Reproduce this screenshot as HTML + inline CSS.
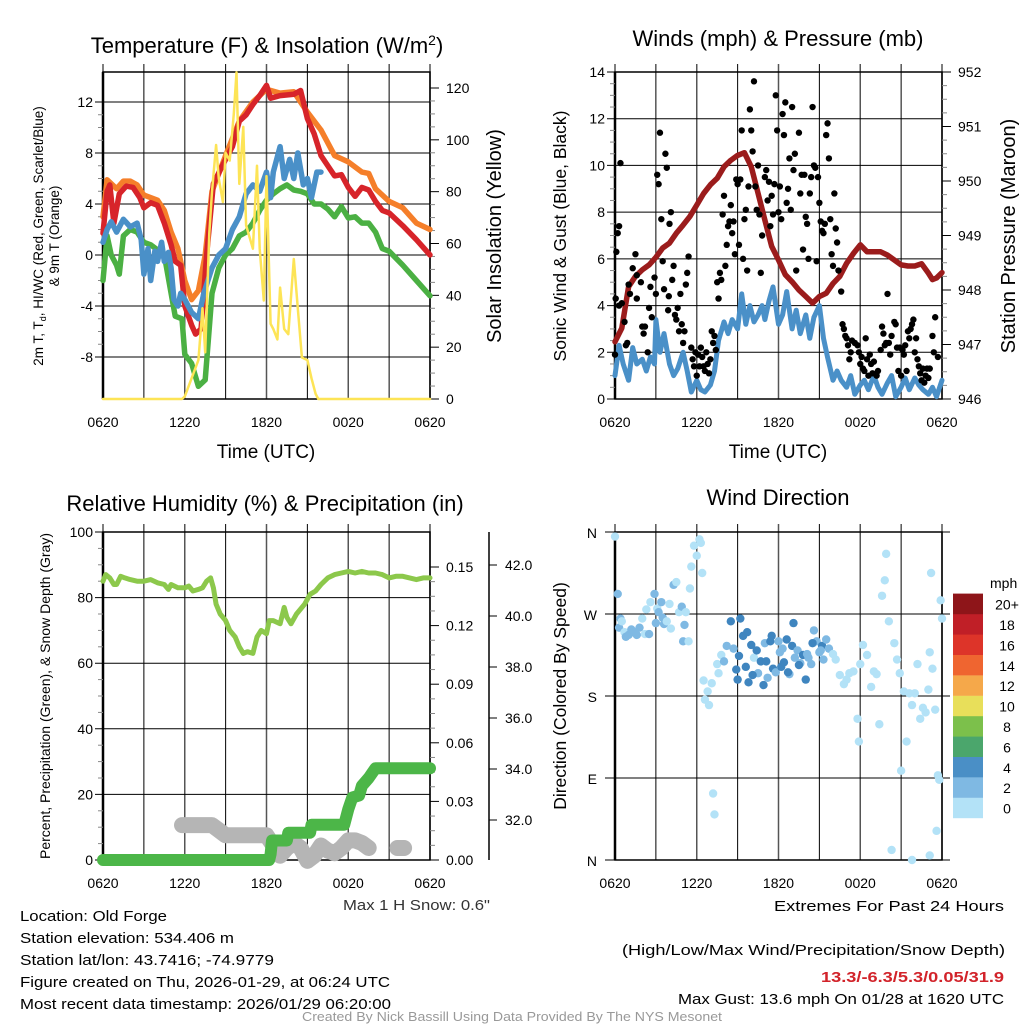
<!DOCTYPE html>
<html><head><meta charset="utf-8"><style>
html,body{margin:0;padding:0;background:#fff;}
svg{display:block;font-family:"Liberation Sans",sans-serif;}
</style></head><body>
<svg id="fig" xmlns="http://www.w3.org/2000/svg" width="1024" height="1024" viewBox="0 0 1024 1024">
<rect x="0" y="0" width="1024" height="1024" fill="#fff"/>
<g id="layer"></g>
<text x="267" y="53" font-size="22" text-anchor="middle">Temperature (F) &amp; Insolation (W/m<tspan dy="-8" font-size="14">2</tspan><tspan dy="8">)</tspan></text>
<text x="778" y="46" font-size="22" text-anchor="middle">Winds (mph) &amp; Pressure (mb)</text>
<text x="265" y="511" font-size="22" text-anchor="middle">Relative Humidity (%) &amp; Precipitation (in)</text>
<text x="778" y="505" font-size="22" text-anchor="middle">Wind Direction</text>
<text x="266" y="458" font-size="19" text-anchor="middle">Time (UTC)</text>
<text x="778" y="458" font-size="19" text-anchor="middle">Time (UTC)</text>
<text transform="translate(43,236) rotate(-90)" font-size="13.5" text-anchor="middle">2m T, T<tspan dy="3" font-size="9">d</tspan><tspan dy="-3">, HI/WC (Red, Green, Scarlet/Blue)</tspan></text>
<text transform="translate(59,236) rotate(-90)" font-size="13.5" text-anchor="middle">&amp; 9m T (Orange)</text>
<text transform="translate(501,236) rotate(-90)" font-size="20" text-anchor="middle">Solar Insolation (Yellow)</text>
<text transform="translate(566,236) rotate(-90)" font-size="17.5" text-anchor="middle">Sonic Wind &amp; Gust (Blue, Black)</text>
<text transform="translate(1015,236) rotate(-90)" font-size="20" text-anchor="middle">Station Pressure (Maroon)</text>
<text transform="translate(50,696) rotate(-90)" font-size="14" text-anchor="middle">Percent, Precipitation (Green), &amp; Snow Depth (Gray)</text>
<text transform="translate(566,696) rotate(-90)" font-size="17.5" text-anchor="middle">Direction (Colored By Speed)</text>
<text x="343" y="910" font-size="15" textLength="147" lengthAdjust="spacingAndGlyphs" fill="#333">Max 1 H Snow: 0.6"</text>
<g font-size="15">
<text x="20" y="921" textLength="147" lengthAdjust="spacingAndGlyphs">Location: Old Forge</text>
<text x="20" y="943" textLength="214" lengthAdjust="spacingAndGlyphs">Station elevation: 534.406 m</text>
<text x="20" y="965" textLength="254" lengthAdjust="spacingAndGlyphs">Station lat/lon: 43.7416; -74.9779</text>
<text x="20" y="987" textLength="370" lengthAdjust="spacingAndGlyphs">Figure created on Thu, 2026-01-29, at 06:24 UTC</text>
<text x="20" y="1009" textLength="371" lengthAdjust="spacingAndGlyphs">Most recent data timestamp: 2026/01/29 06:20:00</text>
</g>
<g font-size="15">
<text x="774" y="911" textLength="230" lengthAdjust="spacingAndGlyphs">Extremes For Past 24 Hours</text>
<text x="622" y="955" textLength="383" lengthAdjust="spacingAndGlyphs">(High/Low/Max Wind/Precipitation/Snow Depth)</text>
<text x="821" y="982" textLength="183" lengthAdjust="spacingAndGlyphs" font-weight="bold" fill="#d2232a">13.3/-6.3/5.3/0.05/31.9</text>
<text x="678" y="1004" textLength="326" lengthAdjust="spacingAndGlyphs">Max Gust: 13.6 mph On 01/28 at 1620 UTC</text>
</g>
<text x="302" y="1021" font-size="12.5" textLength="420" lengthAdjust="spacingAndGlyphs" fill="#999">Created By Nick Bassill Using Data Provided By The NYS Mesonet</text>
</svg>
<script>
// ---------- data ----------
const xTickLabels = ["0620","1220","1820","0020","0620"];
const tempTicks = [-8,-4,0,4,8,12];
const insolTicks = [0,20,40,60,80,100,120];
const windTicks = [0,2,4,6,8,10,12,14];
const presTicks = [946,947,948,949,950,951,952];
const rhTicks = [0,20,40,60,80,100];
const precipTicks = [0,0.03,0.06,0.09,0.12,0.15];
const snowTicks = [32,34,36,38,40,42];
const dirTicks = ["N","E","S","W","N"];
const dirTickDeg = [0,90,180,270,360];
const cbLabels = ["0","2","4","6","8","10","12","14","16","18","20+"];
const cbColors = ["#b3e2f7","#7fb9e3","#4a8fc6","#4ba66c","#7cc04b","#e8df5a","#f5a84a","#ef6530","#dd3429","#c01f27","#8e1519"];

const redT = [[0,1.7],[0.3,5],[0.5,5.5],[0.8,2.5],[1.2,4.8],[1.7,5.4],[2.2,5.3],[2.7,4.5],[3,3.7],[3.5,4.1],[4,3.9],[4.5,2.5],[5,0.8],[5.3,-0.5],[5.7,-0.8],[6,-4],[6.5,-5.5],[6.8,-6.2],[7.2,-5.8],[7.6,0],[8.1,5.6],[9,7.5],[9.5,8.5],[10,10.5],[10.5,11],[11,11.8],[11.5,12.5],[12,13.3],[12.3,12.3],[13,12.5],[14,12.6],[14.5,12.9],[15,10.7],[15.5,9.5],[16,7.8],[17,6.2],[17.5,6.3],[18,5.3],[18.5,4.6],[19,5.3],[19.5,5.1],[20,4.2],[20.5,3.5],[21,3.3],[22,2.3],[23,1.2],[24,0]];
const orangeT = [[0,3],[0.3,5.9],[1,5.2],[1.5,5.8],[2,5.8],[2.5,5.5],[3,4.7],[4,4.3],[4.5,3.5],[5,1.8],[5.5,0.5],[6,-2],[6.5,-3.5],[7,-2.8],[7.5,0],[8,5],[9,7.8],[10,10.5],[11,12],[12,13],[13,12.7],[14,12.8],[15,11.2],[16,9.8],[17,7.8],[18,7.3],[19,6.5],[19.5,6.4],[20,5.2],[21,4.2],[22,3.7],[23,2.5],[24,2]];
const greenTd = [[0,-2],[0.3,1.5],[0.6,0],[1,-0.8],[1.2,-1.5],[1.5,1.5],[2,2],[2.5,1.8],[3,1],[3.5,0.8],[4.5,0],[5,-3],[5.3,-4.8],[5.8,-5],[6,-7.8],[6.5,-8.5],[7,-10.3],[7.5,-9.8],[8,-3],[8.5,-1],[9,0],[9.5,0.5],[10,1.5],[10.5,1.8],[11,2.5],[11.5,3.5],[12,4.3],[12.5,4.8],[13,5.2],[13.5,5.5],[14,5.1],[14.5,5],[15,4.8],[15.5,4],[16,4],[16.5,3.6],[17,3],[17.5,3.8],[18,2.9],[18.5,3],[19,2.5],[19.5,2.5],[20,1.8],[20.5,0.5],[21,0.3],[22,-0.8],[23,-2],[24,-3.2]];
const blueHI = [[0,1],[0.3,2],[0.6,2.6],[1,1.8],[1.5,2.8],[2,2.2],[2.5,2.5],[2.8,1.2],[3,-1.5],[3.3,0.5],[3.5,-2],[3.8,0.3],[4,-0.5],[4.3,1],[4.5,-0.5],[4.8,0.2],[5,-1],[5.2,-3.5],[5.5,-4],[5.7,-3],[6,-3.5],[6.5,-4.5],[7,-5],[7.4,-3],[8,-1],[8.5,0],[9,0.5],[9.5,2],[10,3],[10.5,4.8],[11,5.5],[11.5,5],[12,6.5],[12.3,4.5],[12.5,6.5],[13,8.5],[13.3,6],[13.7,7.5],[14,6],[14.3,8],[14.7,5.5],[15,6],[15.3,4.5],[15.7,6.5],[16,6.5]];
const insol = [[0,0],[5.8,0],[6,1],[6.5,8],[7,15],[7.3,35],[7.5,18],[7.8,64],[8,80],[8.3,98],[8.5,85],[8.8,76],[9,95],[9.3,92],[9.6,110],[9.8,126],[10,83],[10.3,105],[10.5,67],[11,58],[11.3,90],[11.5,58],[11.8,38],[12,86],[12.3,29],[12.5,27],[12.8,23],[13,43],[13.3,27],[13.6,25],[14,54],[14.3,35],[14.6,16],[15,15],[15.3,8],[15.6,2],[15.8,0],[24,0]];

const pressure = [[0,947.05],[0.5,947.3],[1,948.06],[1.5,948.25],[2,948.37],[2.5,948.46],[3,948.6],[3.5,948.77],[4,948.86],[4.5,949.04],[5,949.19],[5.5,949.35],[6,949.56],[6.5,949.77],[7,949.93],[7.5,950.05],[8,950.26],[8.5,950.38],[9,950.47],[9.5,950.52],[10,950.26],[10.5,949.77],[11,949.28],[11.5,948.8],[12,948.55],[12.5,948.28],[13,948.15],[13.5,948],[14,947.88],[14.5,947.76],[15,947.88],[15.5,947.94],[16,948.12],[16.5,948.25],[17,948.49],[17.5,948.67],[18,948.83],[18.5,948.7],[19,948.7],[19.5,948.7],[20,948.64],[20.5,948.55],[21,948.46],[21.5,948.44],[22,948.44],[22.5,948.48],[23,948.31],[23.3,948.19],[23.6,948.22],[24,948.32]];
const windSpd = [[0,1],[0.3,2.3],[0.6,1.5],[1,0.8],[1.3,2.2],[1.6,1.5],[2,1.7],[2.3,1.2],[2.6,1.8],[2.9,1.5],[3,3.4],[3.3,2],[3.6,2.8],[4,1.5],[4.3,1],[4.6,1.3],[5,2],[5.3,1.2],[5.6,0.3],[6,0.8],[6.3,0.4],[6.6,0.3],[7,0.6],[7.3,1.2],[7.6,2.5],[8,3.3],[8.3,2.8],[8.6,3.4],[9,3],[9.3,4.5],[9.6,3.2],[9.9,4],[10.2,3.3],[10.5,3.6],[10.8,4],[11,3.4],[11.3,4.2],[11.6,4.8],[12,3.2],[12.3,3.6],[12.6,4.6],[13,3],[13.3,3.8],[13.6,2.8],[14,3.6],[14.3,2.6],[14.6,3.5],[15,4],[15.3,2.6],[15.6,1.8],[16,0.8],[16.3,1.2],[16.6,0.8],[17,0.5],[17.3,1],[17.6,0.2],[18,0.6],[18.3,0.8],[18.6,0.4],[19,1],[19.3,0.5],[19.6,0.2],[20,0.7],[20.3,1],[20.6,0.1],[21,0.5],[21.3,0.9],[21.6,0.4],[22,0.9],[22.3,0.6],[22.6,0.4],[23,0.2],[23.3,0.5],[23.6,0.1],[24,0.8]];
const gusts = [[0,1.9],[0.05,4.3],[0.1,6.3],[0.2,7.1],[0.3,7.4],[0.4,10.1],[0.3,4],[0.5,4.1],[0.7,3.3],[0.8,2.3],[0.9,2.4],[1,4.9],[1.1,4.5],[1.3,5.6],[1.5,6.2],[1.6,5.3],[1.6,4.3],[1.9,5],[2,3.1],[2.1,2.8],[2.2,3.1],[2.4,2],[2.5,3.9],[2.6,4.8],[2.7,3.5],[2.9,5.2],[3,4.5],[3.1,9.6],[3.2,9.2],[3.3,11.4],[3.4,7.7],[3.5,5.9],[3.6,4.7],[3.7,10.5],[3.8,9.9],[3.9,3.8],[3.95,4.4],[4,7.5],[4.1,8],[4.2,5.1],[4.3,5.7],[4.4,3.6],[4.5,3.4],[4.6,3.9],[4.7,2.9],[4.8,4.5],[4.9,3.2],[5,2.4],[5.1,2.9],[5.2,4.9],[5.3,5.4],[5.4,6.1],[5.6,2.2],[5.7,1.7],[5.8,1.4],[5.9,2],[6,1],[6.1,1.9],[6.2,1.4],[6.3,2.2],[6.4,1.8],[6.5,1.4],[6.6,1.2],[6.7,2],[6.8,1.5],[6.9,1.1],[7,1.7],[7.1,2.9],[7.2,2.4],[7.3,2.7],[7.4,2.1],[7.5,5],[7.6,4.3],[7.7,5.4],[7.8,5.1],[7.9,7.9],[8,8.7],[8.1,5.7],[8.2,6.6],[8.3,7.4],[8.4,7.6],[8.5,8.3],[8.6,7.1],[8.7,7.6],[8.8,6.2],[8.9,9.4],[9,9.2],[9.1,6.6],[9.2,9.4],[9.3,11.5],[9.4,6],[9.5,7.7],[9.6,8.1],[9.7,5.5],[9.8,9.1],[9.9,12.4],[10,11.5],[10.1,10.6],[10.2,13.6],[10.3,9.1],[10.4,8.1],[10.5,10],[10.6,7.9],[10.7,5.4],[10.8,7],[11,9.5],[11.1,9.8],[11.2,8.5],[11.3,9.3],[11.4,7.4],[11.5,8.7],[11.6,7.9],[11.7,9.2],[11.8,13],[11.9,11.5],[12,8],[12.1,9.1],[12.2,7.7],[12.3,12.2],[12.4,11.3],[12.5,12.7],[12.6,8.4],[12.7,9],[12.8,10.3],[12.9,8.1],[13,12.5],[13.1,9.8],[13.2,10.5],[13.3,5.5],[13.5,11.4],[13.6,8.8],[13.7,9.6],[13.8,6.4],[13.9,9.6],[14,7.8],[14.1,7.5],[14.2,6],[14.3,8.8],[14.4,9.5],[14.5,12.5],[14.6,10],[14.7,9.9],[14.8,5.9],[14.9,9.5],[15,8.4],[15.1,7.6],[15.2,7.2],[15.3,7.1],[15.4,7.5],[15.5,11.3],[15.6,11.8],[15.7,10.3],[15.8,7.7],[15.9,6.2],[16,5.7],[16.1,8.8],[16.2,7.3],[16.3,6.7],[16.4,5.5],[16.6,4.6],[16.7,3.2],[16.8,3],[16.9,2.7],[17,2.6],[17.1,2.3],[17.2,1.7],[17.3,2],[17.4,2.5],[17.6,2.4],[17.8,2.3],[17.9,2],[18,1.5],[18.1,1.8],[18.2,1.3],[18.3,1.2],[18.4,2.6],[18.5,1.7],[18.6,1],[18.7,1.9],[18.8,1.5],[18.9,1.1],[19,1.6],[19.2,1],[19.3,1.2],[19.5,2.1],[19.6,3.1],[19.7,2.8],[19.8,2.3],[19.9,2.4],[20,4.5],[20.1,2.4],[20.2,1.9],[20.3,2.7],[20.5,3.3],[20.6,3.2],[20.7,2.2],[20.8,1.2],[20.9,2.2],[21,1],[21.1,2.1],[21.2,1.9],[21.3,2.3],[21.4,1.2],[21.5,2.9],[21.6,2.6],[21.7,3],[21.8,3.2],[21.9,3.4],[22,2],[22.1,2.6],[22.2,1.7],[22.3,1.4],[22.4,1.1],[22.5,0.8],[22.6,1.3],[22.7,0.7],[22.8,1],[22.9,1.3],[23,0.9],[23.1,1.3],[23.3,2.7],[23.4,2],[23.5,3.5],[23.7,1.8]];

const rh = [[0,85],[0.2,87],[0.5,86],[0.8,84],[1,84],[1.3,86.5],[1.6,86],[2,85.5],[2.5,85],[3,85],[3.5,85.5],[4,84.5],[4.5,84],[4.8,82.5],[5,84],[5.5,83],[6,83],[6.3,83.5],[6.6,82],[7,82.5],[7.3,83],[7.6,85],[7.9,86],[8.1,83],[8.3,78],[8.6,75],[9,73],[9.3,70],[9.7,68],[10,65],[10.3,63],[10.6,63.5],[11,63],[11.3,68],[11.6,70],[12,69],[12.2,73],[12.5,73],[13,72],[13.3,77],[13.5,74],[13.8,72],[14.2,75],[14.8,78],[15.2,81],[15.6,82],[16,84],[16.5,86],[17,87],[17.5,87.5],[18,88],[18.5,87.5],[19,88],[19.5,87.5],[20,87.5],[20.5,87],[21,86],[21.5,86.5],[22,86.5],[22.5,86],[23,85.5],[23.5,86],[24,86]];
const precip = [[0,0],[12.2,0],[12.3,0.003],[12.4,0.01],[13.5,0.01],[13.6,0.014],[15.2,0.014],[15.3,0.018],[17.7,0.018],[18,0.026],[18.3,0.032],[18.8,0.033],[19,0.038],[19.5,0.042],[19.8,0.045],[20,0.047],[24,0.047]];
const snow = [[5.8,31.8],[8,31.8],[8.5,31.6],[9,31.4],[12,31.4],[12.5,31.0],[13,30.6],[13.5,30.9],[14,31.1],[14.5,30.9],[15,30.4],[15.5,30.6],[16,31.0],[16.5,30.8],[17,30.7],[17.5,30.9],[18,31.2],[18.5,31.2],[19,31.1],[19.5,30.9]];
const snow2 = [[21.6,30.9],[22.1,30.9]];

const dirHours = [0,0.2,0.3,0.4,0.5,0.7,0.8,1,1.2,1.4,1.6,1.8,2,2.2,2.3,2.5,2.6,2.9,3,3.1,3.2,3.4,3.5,3.6,3.8,4,4.1,4.3,4.5,4.7,4.9,5,5.1,5.2,5.4,5.5,5.6,5.8,6,6.2,6.3,6.4,6.5,6.6,6.8,6.9,7.1,7.2,7.3,7.5,7.6,7.8,8,8.2,8.5,8.7,8.9,9,9.2,9.4,9.6,9.8,10,10.2,10.4,10.5,10.7,10.9,11,11.2,11.4,11.6,11.8,12,12.1,12.2,12.4,12.6,12.8,13,13.2,13.4,13.6,13.8,14,14.2,14.4,14.6,14.8,15,15.2,15.3,15.5,15.7,16,16.2,16.5,16.8,17,17.2,17.5,17.8,17.9,18,18.2,18.5,18.8,19,19.2,19.4,19.6,19.8,19.9,20.1,20.5,20.7,20.9,21,21.2,21.4,21.6,21.8,22,22.2,22.4,22.6,22.8,23,23.1,23.3,23.5,23.7,23.8,23.9,24,23.6,23.2,20.3,21.8,23.1,9.1,9.7,10.1,11.1,11.5,12.3,12.7,13.1,13.5,14.1,14.5,15.1];
const dirDeg = [355,292,255,265,262,250,245,247,253,250,247,255,265,248,275,248,283,292,260,276,272,283,266,259,262,281,254,302,305,272,278,240,258,272,240,298,322,345,334,352,348,315,197,176,185,170,194,73,50,215,205,225,218,235,262,232,209,198,265,246,212,195,236,222,230,205,218,192,238,200,240,210,206,240,228,212,217,242,204,235,222,230,216,225,198,222,215,252,240,228,235,220,242,232,226,220,203,193,198,205,207,155,130,215,236,225,190,207,204,149,290,307,336,262,238,220,205,98,185,130,183,170,183,215,155,167,162,187,228,210,165,93,88,285,265,32,315,11,0,5,224,250,203,218,246,232,206,260,214,226,238,230];
const dirSpd = [0.5,2.5,3,2.3,1.5,1,2,2.5,2,2.5,2,2,1,1,1,2,0.5,2.5,2,1.5,2.5,2,2.6,2,1,1.5,1,2.5,0.5,1,2,2.4,2.5,1,0.5,0.5,0.5,0.5,0.5,0.5,0.5,0.3,0.4,0.4,0.5,0.5,0.5,0.5,0.5,0.5,1,1.5,2,3,4,3,4,4.5,5,4,4,4.5,4.5,1.5,4,3.5,4,4.2,3,3.5,4,4.5,3.5,2.5,3,4,4.5,4,3,4,3.5,3,3.5,4,4.2,3,3,2.5,2.5,3.5,4.5,3,2.5,2,1.5,0.5,0.5,0.5,0.5,0.5,0.5,0.5,0.5,0.5,0.5,0.5,0.5,0.5,0.5,0.5,0.5,0.5,0.5,0.5,0.5,0.5,0.5,0.5,0.5,0.5,0.5,1,0.5,0.5,0.5,0.5,0.5,0.5,0.5,0.5,0.5,0.5,0.5,0.5,0.5,0.5,0.5,0.5,0.5,0.5,4.5,4,4.5,4,4.5,3,4,4.5,4,3,4.5,3.5];

// ---------- drawing ----------
const NS = "http://www.w3.org/2000/svg";
const layer = document.getElementById("layer");
function mk(tag, attrs, parent) {
  const e = document.createElementNS(NS, tag);
  for (const k in attrs) e.setAttribute(k, attrs[k]);
  (parent || layer).appendChild(e);
  return e;
}
function panel(x0, x1, y0, y1) {
  return { x0, x1, y0, y1, X: h => x0 + h / 24 * (x1 - x0) };
}
const TL = panel(103, 430, 72, 399), TR = panel(615, 942, 72, 399);
const BL = panel(103, 430, 532, 860), BR = panel(615, 942, 532, 860);

const yTemp = v => 255 - v * 12.75;
const yIns = v => 399 - v * 2.5917;
const yWind = v => 399 - v * 23.357;
const yPres = v => 399 - (v - 946) * 54.5;
const yRH = v => 860 - v * 3.28;
const yPrec = v => 860 - v / 0.15 * 293;
const ySnow = v => 565 + (42 - v) * 25.5;
const yDir = d => 860 - d / 360 * 328;

function frame(p, name) {
  const g = mk("g", {});
  
  
  for (let i = 0; i <= 8; i++) {
    const x = p.X(i * 3);
    const l = mk("line", { x1: x, x2: x, y1: p.y0 - 8, y2: p.y1, stroke: (i % 2 ? "#000" : "#555"), "stroke-width": (i % 2 ? 1 : 1.5) }, g);
    
    
  }
  for (let i = 0; i < xTickLabels.length; i++) {
    const t = mk("text", { x: p.X(i * 6), y: p.y1 + 28, "font-size": 14, "text-anchor": "middle" }, g);
    t.textContent = xTickLabels[i];
    
    
  }
  const r = mk("rect", { x: p.x0, y: p.y0, width: p.x1 - p.x0, height: p.y1 - p.y0, fill: "none", stroke: "#000", "stroke-width": 1.5 }, g);
  
  
  const lb = mk("line", { x1: p.x0, x2: p.x0, y1: p.y0, y2: p.y1, stroke: "#000", "stroke-width": 2.5 }, g);
  
  
  return g;
}
function yAxis(p, ticks, fy, side, name, fmt, grid, xLab) {
  const g = mk("g", {});
  
  
  ticks.forEach(v => {
    const y = fy(v);
    if (grid) {
      const gl = mk("line", { x1: p.x0 - 8, x2: p.x1, y1: y, y2: y, stroke: "#000", "stroke-width": 1 }, g);
      
      
    }
    if (side === "right") {
      const tk = mk("line", { x1: p.x1, x2: p.x1 + 9, y1: y, y2: y, stroke: "#000" }, g);
      
      
    }
    const t = mk("text", { x: xLab, y: y + 5, "font-size": 14, "text-anchor": side === "right" ? "start" : "end" }, g);
    t.textContent = fmt(v);
    
    
  });
  for (let i = 0; i < ticks.length - 1; i++) {
    for (let k = 1; k < 4; k++) {
      const y = fy(ticks[i]) + (fy(ticks[i + 1]) - fy(ticks[i])) * k / 4;
      const xx = side === "right" ? p.x1 : p.x0;
      const m = mk("line", { x1: xx, x2: xx + (side === "right" ? 5 : -5), y1: y, y2: y, stroke: "#888" }, g);
      
      
    }
  }
}
function line(pts, p, fy, color, w, name) {
  const d = pts.map((q, i) => (i ? "L" : "M") + p.X(q[0]).toFixed(1) + "," + fy(q[1]).toFixed(1)).join("");
  const e = mk("path", { d, fill: "none", stroke: color, "stroke-width": w, "stroke-linejoin": "round", "stroke-linecap": "round" });
  
  
  return e;
}

// Top-left
frame(TL, "temperature");
yAxis(TL, tempTicks, yTemp, "left", "temperature-y-axis", v => v, true, 93);
yAxis(TL, insolTicks, yIns, "right", "insolation-y-axis", v => v, false, 446);
line(greenTd, TL, yTemp, "#4bb043", 5.5, "dewpoint-line");
line(orangeT, TL, yTemp, "#f57f2a", 5.5, "9m-temperature-line");
line(redT, TL, yTemp, "#d7242a", 5.5, "2m-temperature-line");
line(blueHI, TL, yTemp, "#4a90c8", 5.5, "wind-chill-line");
line(insol, TL, yIns, "#fde456", 2.5, "insolation-line");

// Top-right
frame(TR, "winds");
yAxis(TR, windTicks, yWind, "left", "wind-y-axis", v => v, true, 605);
yAxis(TR, presTicks, yPres, "right", "pressure-y-axis", v => v, false, 958);
line(windSpd, TR, yWind, "#4a90c8", 5, "wind-speed-line");
line(pressure, TR, yPres, "#9b1c1c", 5.5, "pressure-line");
gusts.forEach(q => {
  const c = mk("circle", { cx: TR.X(q[0]), cy: yWind(q[1]), r: 3.2, fill: "#000" });
  
  
});

// Bottom-left
frame(BL, "humidity");
yAxis(BL, rhTicks, yRH, "left", "humidity-y-axis", v => v, true, 93);
yAxis(BL, precipTicks, yPrec, "right", "precipitation-y-axis", v => v.toFixed(2), false, 446);
const sAx = mk("line", { x1: 489, x2: 489, y1: 532, y2: 860, stroke: "#000", "stroke-width": 1.5 });


snowTicks.forEach(v => {
  const tk = mk("line", { x1: 489, x2: 497, y1: ySnow(v), y2: ySnow(v), stroke: "#000" });
  
  
  const t = mk("text", { x: 505, y: ySnow(v) + 5, "font-size": 14 });
  t.textContent = v.toFixed(1);
  
  
});
line(snow, BL, ySnow, "#b5b5b5", 16, "snow-depth-line");
line(snow2, BL, ySnow, "#b5b5b5", 16, "snow-depth-line-2");
line(precip, BL, yPrec, "#4cb648", 12, "precipitation-line");
line(rh, BL, yRH, "#8cc84b", 5, "humidity-line");

// Bottom-right
frame(BR, "wind-direction");
const dg = mk("g", {});


dirTickDeg.forEach((d, i) => {
  const gl = mk("line", { x1: BR.x0 - 10, x2: BR.x1 + 8, y1: yDir(d), y2: yDir(d), stroke: "#000" }, dg);
  
  
  const t = mk("text", { x: 597, y: yDir(d) + 6, "font-size": 14, "text-anchor": "end" }, dg);
  t.textContent = dirTicks[i];
  
  
});
const dotColors = ["#b3e2f7","#7fb9e3","#3f85bf"];
dirHours.forEach((h, i) => {
  const s = dirSpd[i];
  const c = mk("circle", { cx: BR.X(h), cy: yDir(dirDeg[i]), r: 4.2, fill: dotColors[Math.min(2, Math.floor(s / 2))] });
  
  
});
const cb = mk("g", {});


const mphT = mk("text", { x: 990, y: 588, "font-size": 14 }, cb);
mphT.textContent = "mph";


cbColors.forEach((c, i) => {
  const y = 818 - (i + 1) * 20.4;
  const r = mk("rect", { x: 953, y: y, width: 30, height: 20.6, fill: c }, cb);
  
  
  const t = mk("text", { x: 1007, y: y + 16, "font-size": 14, "text-anchor": "middle" }, cb);
  t.textContent = cbLabels[i];
  
  
});
</script>
</body></html>
